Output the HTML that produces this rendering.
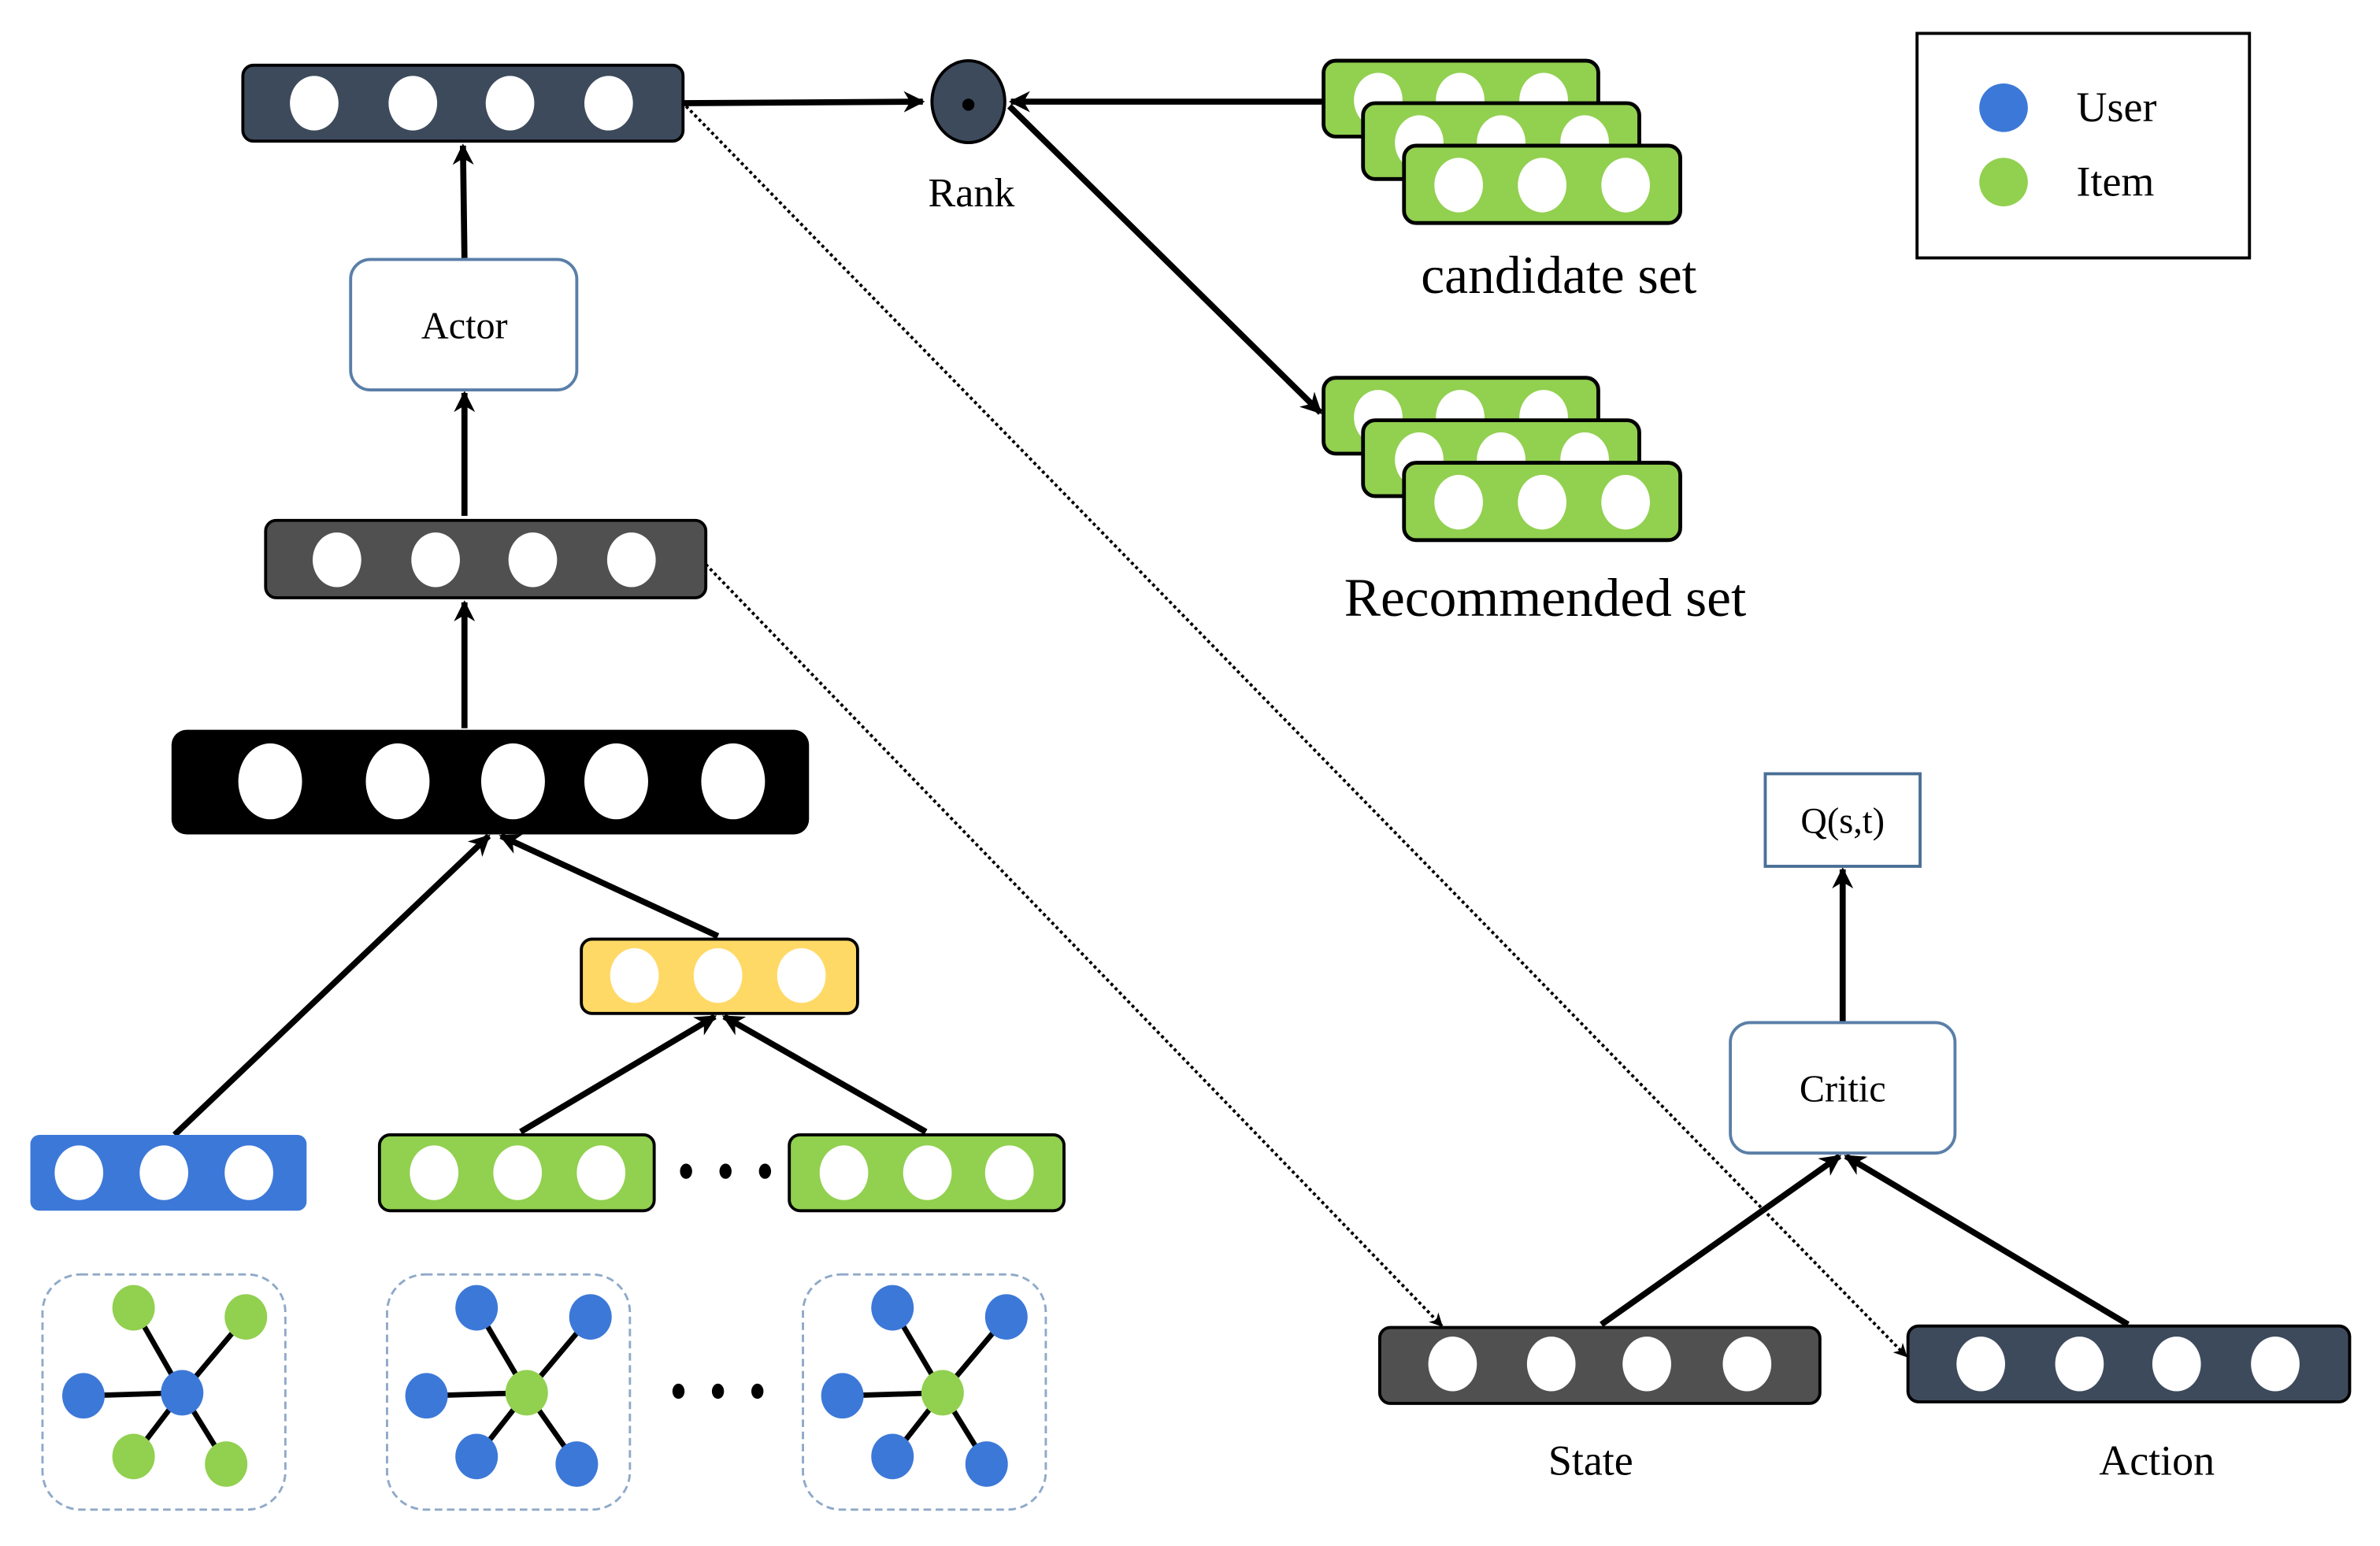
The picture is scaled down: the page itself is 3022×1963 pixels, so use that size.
<!DOCTYPE html>
<html><head><meta charset="utf-8"><style>
html,body{margin:0;padding:0;background:#fff;}
svg{display:block;}
text{font-family:"Liberation Serif",serif;fill:#000;}
</style></head><body>
<svg width="3022" height="1963" viewBox="0 0 1568 1019" preserveAspectRatio="none" xmlns="http://www.w3.org/2000/svg">
<defs>
<marker id="ahs" viewBox="0 0 10 10" refX="9" refY="5" markerWidth="9" markerHeight="9" orient="auto" markerUnits="userSpaceOnUse"><path d="M0,0 L10,5 L0,10 L3,5 z" fill="#000"/></marker>
<marker id="ahb" viewBox="0 0 10 10" refX="9" refY="5" markerWidth="14" markerHeight="14" orient="auto" markerUnits="userSpaceOnUse"><path d="M0,0 L10,5 L0,10 L3,5 z" fill="#000"/></marker>
</defs>

<line x1="452" y1="70" x2="1256" y2="894" stroke="#000" stroke-width="2" stroke-dasharray="2,2" marker-end="url(#ahs)"/>
<line x1="465" y1="372" x2="950" y2="874" stroke="#000" stroke-width="2" stroke-dasharray="2,2" marker-end="url(#ahs)"/>

<g stroke="#000" stroke-width="4" fill="none">
<line x1="450" y1="68" x2="608" y2="67" marker-end="url(#ahb)"/>
<line x1="872" y1="67" x2="666" y2="67" marker-end="url(#ahb)"/>
<line x1="665" y1="70" x2="870" y2="272" marker-end="url(#ahb)"/>
<line x1="306" y1="170" x2="305" y2="96" marker-end="url(#ahb)"/>
<line x1="306" y1="340" x2="306" y2="259" marker-end="url(#ahb)"/>
<line x1="306" y1="480" x2="306" y2="397" marker-end="url(#ahb)"/>
<line x1="115" y1="748" x2="322" y2="551" marker-end="url(#ahb)"/>
<line x1="473" y1="617" x2="330" y2="551" marker-end="url(#ahb)"/>
<line x1="343" y1="746" x2="471" y2="670" marker-end="url(#ahb)"/>
<line x1="610" y1="746" x2="477" y2="670" marker-end="url(#ahb)"/>
<line x1="1214" y1="673" x2="1214" y2="573" marker-end="url(#ahb)"/>
<line x1="1055" y1="873" x2="1212" y2="762" marker-end="url(#ahb)"/>
<line x1="1402" y1="873" x2="1216" y2="762" marker-end="url(#ahb)"/>
</g>

<rect x="160" y="43" width="290" height="50" rx="7" fill="#3d4a5c" stroke="#000" stroke-width="2"/>
<g fill="#fff"><ellipse cx="207" cy="68" rx="16" ry="18"/><ellipse cx="272" cy="68" rx="16" ry="18"/><ellipse cx="336" cy="68" rx="16" ry="18"/><ellipse cx="401" cy="68" rx="16" ry="18"/></g>

<ellipse cx="638" cy="67" rx="24" ry="27" fill="#3d4a5c" stroke="#000" stroke-width="2"/>
<circle cx="638" cy="69" r="4" fill="#000"/>
<text x="640" y="136" font-size="27" text-anchor="middle">Rank</text>

<g stroke="#000" stroke-width="2.5">
<rect x="872" y="40" width="181" height="50" rx="8" fill="#92d050"/>
<ellipse cx="908" cy="66" rx="16" ry="18" fill="#fff" stroke="none"/><ellipse cx="962" cy="66" rx="16" ry="18" fill="#fff" stroke="none"/><ellipse cx="1017" cy="66" rx="16" ry="18" fill="#fff" stroke="none"/>
<rect x="898" y="68" width="182" height="50" rx="8" fill="#92d050"/>
<ellipse cx="935" cy="94" rx="16" ry="18" fill="#fff" stroke="none"/><ellipse cx="989" cy="94" rx="16" ry="18" fill="#fff" stroke="none"/><ellipse cx="1044" cy="94" rx="16" ry="18" fill="#fff" stroke="none"/>
<rect x="925" y="96" width="182" height="51" rx="8" fill="#92d050"/>
<ellipse cx="961" cy="122" rx="16" ry="18" fill="#fff" stroke="none"/><ellipse cx="1016" cy="122" rx="16" ry="18" fill="#fff" stroke="none"/><ellipse cx="1071" cy="122" rx="16" ry="18" fill="#fff" stroke="none"/>
</g>
<text x="1027" y="193" font-size="35" text-anchor="middle">candidate set</text>

<g stroke="#000" stroke-width="2.5">
<rect x="872" y="249" width="181" height="50" rx="8" fill="#92d050"/>
<ellipse cx="908" cy="275" rx="16" ry="18" fill="#fff" stroke="none"/><ellipse cx="962" cy="275" rx="16" ry="18" fill="#fff" stroke="none"/><ellipse cx="1017" cy="275" rx="16" ry="18" fill="#fff" stroke="none"/>
<rect x="898" y="277" width="182" height="50" rx="8" fill="#92d050"/>
<ellipse cx="935" cy="303" rx="16" ry="18" fill="#fff" stroke="none"/><ellipse cx="989" cy="303" rx="16" ry="18" fill="#fff" stroke="none"/><ellipse cx="1044" cy="303" rx="16" ry="18" fill="#fff" stroke="none"/>
<rect x="925" y="305" width="182" height="51" rx="8" fill="#92d050"/>
<ellipse cx="961" cy="331" rx="16" ry="18" fill="#fff" stroke="none"/><ellipse cx="1016" cy="331" rx="16" ry="18" fill="#fff" stroke="none"/><ellipse cx="1071" cy="331" rx="16" ry="18" fill="#fff" stroke="none"/>
</g>
<text x="1018" y="406" font-size="36" text-anchor="middle">Recommended set</text>

<rect x="1263" y="22" width="219" height="148" fill="#fff" stroke="#000" stroke-width="2"/>
<ellipse cx="1320" cy="71" rx="16" ry="16" fill="#3c78d8"/>
<ellipse cx="1320" cy="120" rx="16" ry="16" fill="#92d050"/>
<text x="1368" y="80" font-size="28">User</text>
<text x="1368" y="129" font-size="28">Item</text>

<rect x="231" y="171" width="149" height="86" rx="13" fill="#fff" stroke="#5a7fa8" stroke-width="2"/>
<text x="306" y="223" font-size="25" text-anchor="middle">Actor</text>

<rect x="175" y="343" width="290" height="51" rx="7" fill="#505050" stroke="#000" stroke-width="2"/>
<g fill="#fff"><ellipse cx="222" cy="369" rx="16" ry="18"/><ellipse cx="287" cy="369" rx="16" ry="18"/><ellipse cx="351" cy="369" rx="16" ry="18"/><ellipse cx="416" cy="369" rx="16" ry="18"/></g>

<rect x="113" y="481" width="420" height="69" rx="10" fill="#000"/>
<g fill="#fff"><ellipse cx="178" cy="515" rx="21" ry="25"/><ellipse cx="262" cy="515" rx="21" ry="25"/><ellipse cx="338" cy="515" rx="21" ry="25"/><ellipse cx="406" cy="515" rx="21" ry="25"/><ellipse cx="483" cy="515" rx="21" ry="25"/></g>

<rect x="383" y="619" width="182" height="49" rx="7" fill="#ffd966" stroke="#000" stroke-width="2"/>
<g fill="#fff"><ellipse cx="418" cy="643" rx="16" ry="18"/><ellipse cx="473" cy="643" rx="16" ry="18"/><ellipse cx="528" cy="643" rx="16" ry="18"/></g>

<rect x="20" y="748" width="182" height="50" rx="6" fill="#3c78d8"/>
<g fill="#fff"><ellipse cx="52" cy="773" rx="16" ry="18"/><ellipse cx="108" cy="773" rx="16" ry="18"/><ellipse cx="164" cy="773" rx="16" ry="18"/></g>
<rect x="250" y="748" width="181" height="50" rx="7" fill="#92d050" stroke="#000" stroke-width="2"/>
<g fill="#fff"><ellipse cx="286" cy="773" rx="16" ry="18"/><ellipse cx="341" cy="773" rx="16" ry="18"/><ellipse cx="396" cy="773" rx="16" ry="18"/></g>
<rect x="520" y="748" width="181" height="50" rx="7" fill="#92d050" stroke="#000" stroke-width="2"/>
<g fill="#fff"><ellipse cx="556" cy="773" rx="16" ry="18"/><ellipse cx="611" cy="773" rx="16" ry="18"/><ellipse cx="665" cy="773" rx="16" ry="18"/></g>
<g fill="#000"><ellipse cx="452" cy="772" rx="4" ry="5"/><ellipse cx="478" cy="772" rx="4" ry="5"/><ellipse cx="504" cy="772" rx="4" ry="5"/></g>

<g fill="none" stroke="#8fa9c8" stroke-width="1.5" stroke-dasharray="5,3">
<rect x="28" y="840" width="160" height="155" rx="25"/>
<rect x="255" y="840" width="160" height="155" rx="25"/>
<rect x="529" y="840" width="160" height="155" rx="25"/>
</g>
<g stroke="#000" stroke-width="3.5">
<line x1="120" y1="918" x2="88" y2="862"/><line x1="120" y1="918" x2="162" y2="868"/><line x1="120" y1="918" x2="55" y2="920"/><line x1="120" y1="918" x2="88" y2="960"/><line x1="120" y1="918" x2="149" y2="965"/>
<line x1="347" y1="918" x2="314" y2="862"/><line x1="347" y1="918" x2="389" y2="868"/><line x1="347" y1="918" x2="281" y2="920"/><line x1="347" y1="918" x2="314" y2="960"/><line x1="347" y1="918" x2="380" y2="965"/>
<line x1="621" y1="918" x2="588" y2="862"/><line x1="621" y1="918" x2="663" y2="868"/><line x1="621" y1="918" x2="555" y2="920"/><line x1="621" y1="918" x2="588" y2="960"/><line x1="621" y1="918" x2="650" y2="965"/>
</g>
<g>
<ellipse cx="120" cy="918" rx="14" ry="15" fill="#3c78d8"/>
<ellipse cx="88" cy="862" rx="14" ry="15" fill="#92d050"/><ellipse cx="162" cy="868" rx="14" ry="15" fill="#92d050"/><ellipse cx="55" cy="920" rx="14" ry="15" fill="#3c78d8"/><ellipse cx="88" cy="960" rx="14" ry="15" fill="#92d050"/><ellipse cx="149" cy="965" rx="14" ry="15" fill="#92d050"/>
<ellipse cx="347" cy="918" rx="14" ry="15" fill="#92d050"/>
<ellipse cx="314" cy="862" rx="14" ry="15" fill="#3c78d8"/><ellipse cx="389" cy="868" rx="14" ry="15" fill="#3c78d8"/><ellipse cx="281" cy="920" rx="14" ry="15" fill="#3c78d8"/><ellipse cx="314" cy="960" rx="14" ry="15" fill="#3c78d8"/><ellipse cx="380" cy="965" rx="14" ry="15" fill="#3c78d8"/>
<ellipse cx="621" cy="918" rx="14" ry="15" fill="#92d050"/>
<ellipse cx="588" cy="862" rx="14" ry="15" fill="#3c78d8"/><ellipse cx="663" cy="868" rx="14" ry="15" fill="#3c78d8"/><ellipse cx="555" cy="920" rx="14" ry="15" fill="#3c78d8"/><ellipse cx="588" cy="960" rx="14" ry="15" fill="#3c78d8"/><ellipse cx="650" cy="965" rx="14" ry="15" fill="#3c78d8"/>
</g>
<g fill="#000"><ellipse cx="447" cy="917" rx="4" ry="5"/><ellipse cx="473" cy="917" rx="4" ry="5"/><ellipse cx="499" cy="917" rx="4" ry="5"/></g>

<rect x="1163" y="510" width="102" height="61" fill="#fff" stroke="#4a6f96" stroke-width="2"/>
<text x="1214" y="549" font-size="24" text-anchor="middle">Q(s,t)</text>

<rect x="1140" y="674" width="148" height="86" rx="13" fill="#fff" stroke="#5a7fa8" stroke-width="2"/>
<text x="1214" y="726" font-size="25" text-anchor="middle">Critic</text>

<rect x="909" y="875" width="290" height="50" rx="7" fill="#505050" stroke="#000" stroke-width="2"/>
<g fill="#fff"><ellipse cx="957" cy="899" rx="16" ry="18"/><ellipse cx="1022" cy="899" rx="16" ry="18"/><ellipse cx="1085" cy="899" rx="16" ry="18"/><ellipse cx="1151" cy="899" rx="16" ry="18"/></g>
<text x="1048" y="972" font-size="28" text-anchor="middle">State</text>

<rect x="1257" y="874" width="291" height="50" rx="7" fill="#3d4a5c" stroke="#000" stroke-width="2"/>
<g fill="#fff"><ellipse cx="1305" cy="899" rx="16" ry="18"/><ellipse cx="1370" cy="899" rx="16" ry="18"/><ellipse cx="1434" cy="899" rx="16" ry="18"/><ellipse cx="1499" cy="899" rx="16" ry="18"/></g>
<text x="1421" y="972" font-size="28" text-anchor="middle">Action</text>
</svg>
</body></html>
